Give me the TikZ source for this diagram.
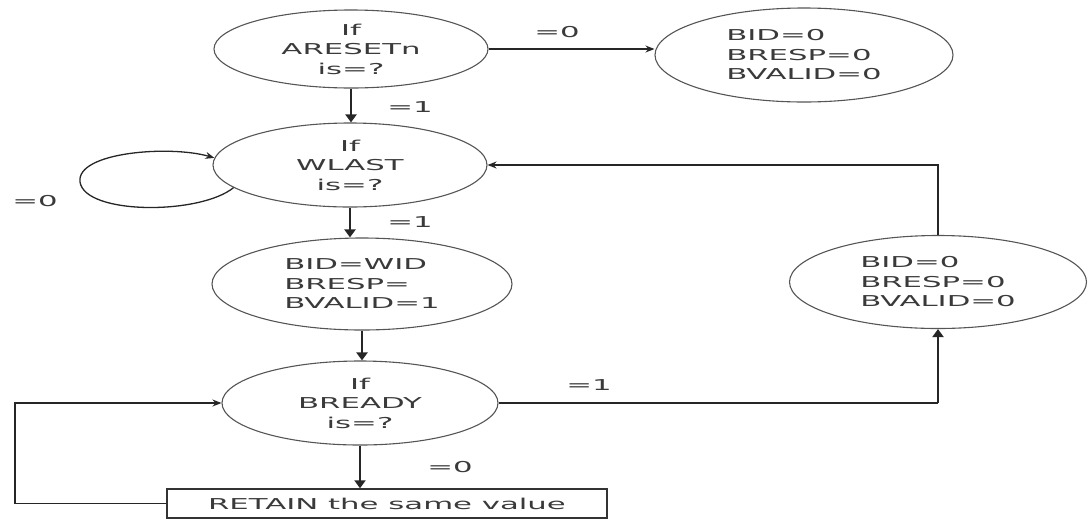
\documentclass[tikz,border=0pt]{standalone}
\usepackage{fontspec}
\newfontfamily\lbl[FakeStretch=2.05]{DejaVu Sans}
\usetikzlibrary{arrows.meta,shapes.geometric}
\definecolor{txt}{HTML}{3A3A3A}
\definecolor{edge}{HTML}{555555}
\begin{document}
\begin{tikzpicture}[x=1pt,y=-1pt,
 every node/.style={font=\lbl\fontsize{15}{19.5}\selectfont, text=txt},
 st/.style={ellipse, draw=edge, line width=1.1pt, inner sep=0pt},
 thinarr/.style={draw=black!85, line width=1.3pt, -{Stealth[length=9pt,width=7pt]}},
 thinline/.style={draw=black!85, line width=1.3pt},
 thickarr/.style={draw=black!85, line width=2.6pt, -{Triangle[length=8pt,width=11pt]}},
 lab/.style={inner sep=0pt}]
\useasboundingbox (0,0) rectangle (1089,520);
% states
\node[st, align=center, minimum width=274pt, minimum height=78pt] (a) at (351,49) {If\\ARESETn\\is=?};
\node[st, align=left, minimum width=298pt, minimum height=94pt] (e2) at (804,55) {BID=0\\BRESP=0\\BVALID=0};
\node[st, align=center, minimum width=274pt, minimum height=84pt] (w) at (350,165) {If\\WLAST\\is=?};
\node[st, align=left, minimum width=300pt, minimum height=92pt] (b) at (362,284) {BID=WID\\BRESP=\\BVALID=1};
\node[st, align=center, minimum width=276pt, minimum height=84pt] (r5) at (360,403) {If\\BREADY\\is=?};
\node[st, align=left, minimum width=297pt, minimum height=93pt] (e6) at (938,282) {BID=0\\BRESP=0\\BVALID=0};
\node[draw=black!80, line width=1.4pt, minimum width=440pt, minimum height=29pt, inner sep=0pt] (box) at (387,503.5) {RETAIN the same value};
\coordinate (lc) at (15,0);
% connectors
\draw[thinarr] (a.east) -- (a.east -| e2.west);
\draw[thickarr] (a.south) -- (a.south |- w.north);
\draw[thinarr] (w.191) .. controls (200,215) and (85,215) .. (80,182) .. controls (76,152) and (170,145) .. (w.177);
\draw[thickarr] (w.south) -- (w.south |- b.north);
\draw[thickarr] (b.south) -- (b.south |- r5.north);
\draw[thickarr] (r5.south) -- (r5.south |- box.north);
\draw[thinarr] (box.west) -- (box.west -| lc) -- (lc |- r5.west) -- (r5.west);
\draw[thinline] (r5.east) -- (r5.east -| e6.south);
\draw[thickarr] (r5.east -| e6.south) -- (e6.south);
\draw[thinarr, line width=1.6pt] (e6.north) |- (w.east);
% labels
\node[lab] (l1) at (557,32) {=0};
\node[lab] (l2) at (410,107) {=1};
\node[lab] (l3) at (35,201) {=0};
\node[lab] (l4) at (410,222) {=1};
\node[lab] (l5) at (589,385) {=1};
\node[lab] (l6) at (450,467) {=0};
\end{tikzpicture}
\end{document}
